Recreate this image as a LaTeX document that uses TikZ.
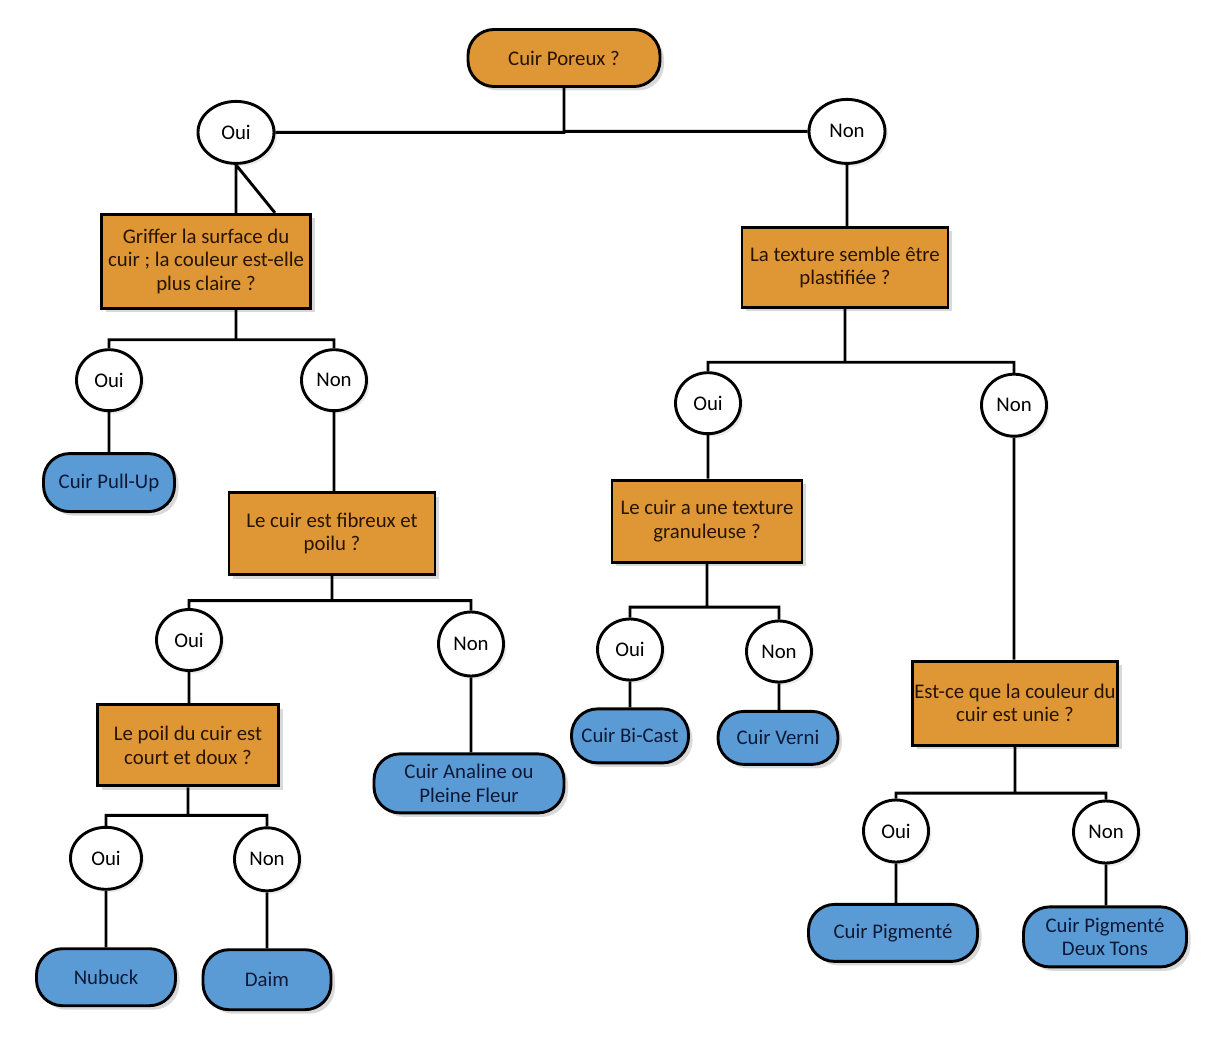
\documentclass[tikz,border=0pt]{standalone}
\usepackage{fontspec}
\setmainfont{Carlito}
\usepackage{tikz}
\usetikzlibrary{shapes.geometric}
\usetikzlibrary{positioning}
\usetikzlibrary{shadows}
\definecolor{qorange}{RGB}{223,150,52}
\definecolor{lblue}{RGB}{91,155,213}
\definecolor{qtext}{RGB}{40,20,0}
\definecolor{ltext}{RGB}{12,25,55}

\begin{document}
\begin{tikzpicture}[line width=2.9pt, font=\fontsize{20.8}{23.5}\selectfont]
        \tikzset{qblock/.style= {draw, rectangle, fill=qorange, text=qtext, align=center, inner sep=1pt,
                 drop shadow={shadow xshift=4pt, shadow yshift=-4pt, opacity=0.3}},
        rblock/.style={draw, shape=rectangle, rounded corners=26pt, align=center, inner sep=1pt,
                 drop shadow={shadow xshift=4pt, shadow yshift=-4pt, opacity=0.3}},
        leaf/.style={rblock, fill=lblue, text=ltext},
        answer/.style={draw, ellipse, fill=white, minimum width=65pt, minimum height=61pt, inner sep=0pt,
                 drop shadow={shadow xshift=3pt, shadow yshift=-3pt, opacity=0.15}},
        }
        \useasboundingbox (0,0) rectangle (1231pt,-1064pt);

        \node [rblock, fill=qorange, text=qtext, minimum width=192pt, minimum height=57pt] (root) at (564pt,-58pt) {Cuir Poreux ?};
        \node [answer, minimum width=76pt, minimum height=62pt, below=12pt of root, xshift=-328pt] (ouiA) {Oui};
        \node [answer, minimum width=76pt, minimum height=64pt, below=10pt of root, xshift=283pt] (nonA) {Non};

        %% left branch
        \node [qblock, minimum width=209pt, minimum height=94pt, below=48pt of ouiA, xshift=-30pt] (griffer) {Griffer la surface du\\cuir ; la couleur est-elle\\plus claire ?};
        \node [coordinate, below=30pt of griffer, xshift=30pt] (bus1) {};  %% bus under griffer
        \node [answer, below=38.5pt of griffer, xshift=-97pt] (oui1) {Oui};
        \node [answer, below=38.5pt of griffer, xshift=128pt] (non1) {Non};
        \node [leaf, minimum width=131pt, minimum height=58pt, below=40pt of oui1] (pullup) {Cuir Pull-Up};
        \node [qblock, minimum width=206pt, minimum height=82pt, below=79pt of non1, xshift=-2pt] (fibreux) {Le cuir est fibreux et\\poilu ?};
        \node [coordinate, below=24.5pt of fibreux] (bus3) {};
        \node [answer, below=32pt of fibreux, xshift=-143pt] (oui3) {Oui};
        \node [answer, minimum height=64pt, below=34.5pt of fibreux, xshift=139pt] (non3) {Non};
        \node [qblock, minimum width=181pt, minimum height=81pt, below=31.5pt of oui3, xshift=-1pt] (poil) {Le poil du cuir est\\court et doux ?};
        \node [leaf, minimum width=190pt, minimum height=59pt, below=75pt of non3, xshift=-2pt] (analine) {Cuir Analine ou\\Pleine Fleur};
        \node [coordinate, below=28pt of poil] (bus6) {};
        \node [answer, minimum width=71pt, minimum height=62pt, below=38.5pt of poil, xshift=-82pt] (oui5) {Oui};
        \node [answer, minimum height=63pt, below=39pt of poil, xshift=79pt] (non5) {Non};
        \node [leaf, minimum width=139pt, minimum height=57pt, below=56.5pt of oui5] (nubuck) {Nubuck};
        \node [leaf, minimum width=128pt, minimum height=60pt, below=56pt of non5] (daim) {Daim};

        %% right branch
        \node [qblock, minimum width=206pt, minimum height=80pt, below=61pt of nonA, xshift=-2pt] (plast) {La texture semble être\\plastifiée ?};
        \node [coordinate, below=53.5pt of plast] (bus2) {};
        \node [answer, below=62.5pt of plast, xshift=-137pt] (oui2) {Oui};
        \node [answer, minimum height=62pt, below=64pt of plast, xshift=169pt] (non2) {Non};
        \node [qblock, minimum width=190pt, minimum height=82pt, below=43.5pt of oui2, xshift=-1pt] (granul) {Le cuir a une texture\\granuleuse ?};
        \node [coordinate, below=43.5pt of granul] (bus4) {};
        \node [answer, below=54pt of granul, xshift=-77pt] (oui4) {Oui};
        \node [answer, below=56pt of granul, xshift=72pt] (non4) {Non};
        \node [leaf, minimum width=117pt, minimum height=54pt, below=26pt of oui4] (bicast) {Cuir Bi-Cast};
        \node [leaf, minimum width=120pt, minimum height=53pt, below=26.5pt of non4, xshift=-1pt] (verni) {Cuir Verni};
        \node [qblock, minimum width=205pt, minimum height=84pt, below=222pt of non2, xshift=1pt] (unie) {Est-ce que la couleur du\\cuir est unie ?};
        \node [coordinate, below=46.5pt of unie] (bus5) {};
        \node [answer, minimum height=62pt, below=52pt of unie, xshift=-119pt] (oui6) {Oui};
        \node [answer, minimum height=62pt, below=53pt of unie, xshift=91pt] (non6) {Non};
        \node [leaf, minimum width=169pt, minimum height=57pt, below=39.5pt of oui6, xshift=-3pt] (pigm) {Cuir Pigmenté};
        \node [leaf, minimum width=163pt, minimum height=60pt, below=41pt of non6, xshift=-1pt] (deuxtons) {Cuir Pigmenté\\Deux Tons};

%% paths
        \path[draw] (root) |- (ouiA)
                    (root) |- (nonA)
                    (ouiA) -- (ouiA |- griffer.north)
                    (ouiA.south) -- ([xshift=-37pt]griffer.north east)
                    (bus1 |- griffer.south) -- (bus1) -| (oui1)
                    (bus1) -| (non1)
                    (oui1) -- (oui1 |- pullup.north)
                    (non1) -- (non1 |- fibreux.north)
                    (fibreux) -- (bus3) -| (oui3)
                    (bus3) -| (non3)
                    (oui3) -- (oui3 |- poil.north)
                    (non3) -- (non3 |- analine.north)
                    (poil) -- (bus6) -| (oui5)
                    (bus6) -| (non5)
                    (oui5) -- (oui5 |- nubuck.north)
                    (non5) -- (non5 |- daim.north)
                    (nonA) -- (nonA |- plast.north)
                    (plast) -- (bus2) -| (oui2)
                    (bus2) -| (non2)
                    (oui2) -- (oui2 |- granul.north)
                    (non2) -- (non2 |- unie.north)
                    (granul) -- (bus4) -| (oui4)
                    (bus4) -| (non4)
                    (oui4) -- (oui4 |- bicast.north)
                    (non4) -- (non4 |- verni.north)
                    (unie) -- (bus5) -| (oui6)
                    (bus5) -| (non6)
                    (oui6) -- (oui6 |- pigm.north)
                    (non6) -- (non6 |- deuxtons.north)
                    ;
\end{tikzpicture}
\end{document}
